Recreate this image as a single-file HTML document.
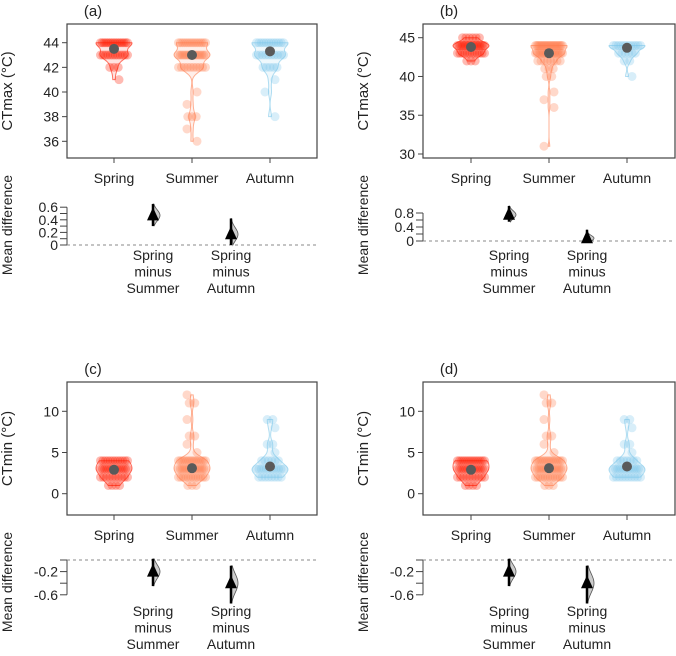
<!DOCTYPE html>
<html><head><meta charset="utf-8"><style>
body{margin:0;background:#fff}
svg text{font-family:"Liberation Sans",Arial,sans-serif;fill:#222}
</style></head><body>
<svg id="chart" width="676" height="651" xmlns="http://www.w3.org/2000/svg"></svg>
<script>
const categories=["Spring","Summer","Autumn"];
const contrastLabels=["Spring minus Summer","Spring minus Autumn"];
// panel a (CTmax)
const aVals=[[44,43,42,41],[44,43,42,40,39,38,37,36],[44,43,42,41,40,38]];
const aCounts=[[16,12,3,1],[14,16,10,1,1,3,1,1],[12,10,5,1,1,1]];
const aMeans=[43.5,43.0,43.3];
const aDiff=[0.47,0.17];const aLo=[0.3,0.0];const aHi=[0.65,0.42];
// panel b (CTmax)
const bVals=[[45,44,43,42],[44,43,42,41,40,38,37,36,31],[44,43,42,40]];
const bCounts=[[6,18,12,3],[22,18,8,3,2,1,1,1,1],[12,6,2,1]];
const bMeans=[43.8,43.0,43.7];
const bDiff=[0.75,0.08];const bLo=[0.55,0.0];const bHi=[1.0,0.32];
// panel c (CTmin)
const cVals=[[4,3,2,1],[12,11,9,7,6,5,4,3,2,1],[9,8,6,5,4,3,2]];
const cCounts=[[12,14,10,4],[1,2,1,2,1,1,14,16,12,3],[2,1,2,1,6,12,8]];
const cMeans=[2.9,3.1,3.3];
const cDiff=[-0.2,-0.4];const cLo=[-0.45,-0.75];const cHi=[0.02,-0.1];
// panel d (CTmin)
const dVals=[[4,3,2,1],[12,11,9,7,6,5,4,3,2,1],[9,8,6,5,4,3,2]];
const dCounts=[[14,14,10,4],[1,2,1,2,1,1,14,16,12,3],[2,1,2,1,7,14,10]];
const dMeans=[2.9,3.1,3.3];
const dDiff=[-0.2,-0.4];const dLo=[-0.45,-0.75];const dHi=[0.02,-0.1];

const colors=["#ff1a00","#ff7f50","#7ec8ea"];
const NS="http://www.w3.org/2000/svg";
const svg=document.getElementById("chart");
function mk(tag,attrs,parent){const e=document.createElementNS(NS,tag);for(const k in attrs)e.setAttribute(k,attrs[k]);(parent||svg).appendChild(e);return e;}
function txt(s,x,y,size,anchor,parent,rot){const t=mk("text",{x:x,y:y,"font-size":size,"text-anchor":anchor||"middle"},parent);if(rot)t.setAttribute("transform","rotate(-90 "+x+" "+y+")");t.textContent=s;return t;}

function panel(cfg,vals,counts,means,diff,lo,hi){
  const g=mk("g",{});
  
  
  const yS=v=>cfg.yA+(v-cfg.vA)*(cfg.yB-cfg.yA)/(cfg.vB-cfg.vA);
  const dS=v=>cfg.zeroY-v*cfg.dScale;
  const lab=txt("("+cfg.id+")",cfg.x0+26,cfg.y0-8,15,"middle",g);
  
  
  const box=mk("rect",{x:cfg.x0,y:cfg.y0,width:cfg.x1-cfg.x0,height:cfg.y1-cfg.y0,fill:"none",stroke:"#444","stroke-width":1.2},g);
  
  
  cfg.ticks.forEach(t=>{const y=yS(t);mk("line",{x1:cfg.x0-5,x2:cfg.x0,y1:y,y2:y,stroke:"#444"},g);
    const tl=txt(String(t),cfg.x0-8,y+5,14,"end",g);
    
    });
  const yt=txt(cfg.ytitle,cfg.titleX,(cfg.y0+cfg.y1)/2,15,"middle",g,true);
  
  
  categories.forEach((c,i)=>{
    const cx=cfg.cats[i];
    mk("line",{x1:cx,x2:cx,y1:cfg.y1,y2:cfg.y1+5,stroke:"#444"},g);
    const cl=txt(c,cx,cfg.y1+25,14,"middle",g);
    
    
    const v=vals[i],n=counts[i];let tot=n.reduce((a,b)=>a+b,0);
    const bw=cfg.bw;const mn=Math.min(...v),mx=Math.max(...v);
    const pts=[];let maxd=0;
    for(let k=0;k<=60;k++){const x=mn+(mx-mn)*k/60;let d=0;v.forEach((vv,j)=>{d+=n[j]*Math.exp(-0.5*((x-vv)/bw)**2);});d/=tot;pts.push([x,d]);maxd=Math.max(maxd,d);}
    let p="";pts.forEach((q,k)=>{p+=(k?"L":"M")+(cx+q[1]/maxd*cfg.vw)+","+yS(q[0]);});
    for(let k=pts.length-1;k>=0;k--){p+="L"+(cx-pts[k][1]/maxd*cfg.vw)+","+yS(pts[k][0]);}
    const vio=mk("path",{d:p+"Z",fill:colors[i],"fill-opacity":0.12,stroke:colors[i],"stroke-opacity":0.6,"stroke-width":1},g);
    
    
    v.forEach((vv,j)=>{const cnt=n[j];const w=Math.min(cfg.vw*0.75,cnt*1.4);
      for(let m=0;m<cnt;m++){const off=cnt>1?-w+2*w*m/(cnt-1):((j%2)?5:-5);
        const pt=mk("circle",{cx:cx+off,cy:yS(vv),r:4.5,fill:colors[i],"fill-opacity":0.3},g);
        
        }});
    const md=mk("circle",{cx:cx,cy:yS(means[i]),r:5,fill:"#5a5a5a"},g);
    
    
  });
  const ax=cfg.x0;
  const dmin=Math.min(...cfg.dTicks),dmax=Math.max(...cfg.dTicks);
  mk("line",{x1:ax,x2:ax,y1:dS(dmin),y2:dS(dmax),stroke:"#444"},g);
  cfg.dTicks.forEach(t=>{const y=dS(t);mk("line",{x1:ax-7,x2:ax,y1:y,y2:y,stroke:"#444"},g);});
  cfg.dLabels.forEach(t=>{const tl=txt(String(t),ax-9,dS(t)+5,14,"end",g);
    
    });
  const zl=mk("line",{x1:ax,x2:cfg.x1,y1:dS(0),y2:dS(0),stroke:"#888","stroke-dasharray":"3,3"},g);
  
  
  const mt=txt("Mean difference",cfg.titleX,cfg.dTitleY,14,"middle",g,true);
  
  
  diff.forEach((d,i)=>{
    const x=cfg.diffX[i];
    const sd=(hi[i]-lo[i])/4;let p="M"+x+","+dS(hi[i]);
    for(let k=0;k<=30;k++){const vv=hi[i]-(hi[i]-lo[i])*k/30;const w=7*Math.exp(-0.5*((vv-d)/sd)**2);p+="L"+(x+w)+","+dS(vv);}
    p+="Z";
    const hv=mk("path",{d:p,fill:"#ccc",stroke:"#555","stroke-width":0.8},g);
    
    
    const ci=mk("line",{x1:x,x2:x,y1:dS(lo[i]),y2:dS(hi[i]),stroke:"#000","stroke-width":2.5},g);
    
    
    const y=dS(d);
    const tr=mk("path",{d:"M"+x+","+(y-8)+"L"+(x+6)+","+(y+5)+"L"+(x-6)+","+(y+5)+"Z",fill:"#000"},g);
    
    
    const parts=["Spring","minus",i==0?"Summer":"Autumn"];
    parts.forEach((s,k)=>{const cl=txt(s,x,cfg.cLabY+k*16.5,14,"middle",g);
      
      });
  });
}
panel({id:"a",x0:67,x1:317,y0:24,y1:158,yA:42.7,vA:44,yB:141.3,vB:36,ticks:[36,38,40,42,44],bw:0.4,vw:18,cats:[114,192,270],titleX:12,ytitle:"CTmax (°C)",
  zeroY:245,dScale:63,dTicks:[0,0.1,0.2,0.3,0.4,0.5,0.6],dLabels:[0,0.2,0.4,0.6],diffX:[153,231],cLabY:260,dTitleY:225},aVals,aCounts,aMeans,aDiff,aLo,aHi);
panel({id:"b",x0:423,x1:675,y0:24,y1:158,yA:37.7,vA:45,yB:154,vB:30,ticks:[30,35,40,45],bw:0.45,vw:18,cats:[471,549,627],titleX:368,ytitle:"CTmax (°C)",
  zeroY:241,dScale:35,dTicks:[0,0.2,0.4,0.6,0.8],dLabels:[0,0.4,0.8],diffX:[509,587],cLabY:260,dTitleY:225},bVals,bCounts,bMeans,bDiff,bLo,bHi);
panel({id:"c",x0:67,x1:317,y0:382,y1:515,yA:411.3,vA:10,yB:493.7,vB:0,ticks:[0,5,10],bw:0.55,vw:18,cats:[114,192,270],titleX:12,ytitle:"CTmin (°C)",
  zeroY:560,dScale:58,dTicks:[0,-0.2,-0.4,-0.6],dLabels:[-0.2,-0.6],diffX:[153,231],cLabY:616,dTitleY:582},cVals,cCounts,cMeans,cDiff,cLo,cHi);
panel({id:"d",x0:423,x1:675,y0:382,y1:515,yA:411.3,vA:10,yB:493.7,vB:0,ticks:[0,5,10],bw:0.55,vw:18,cats:[471,549,627],titleX:368,ytitle:"CTmin (°C)",
  zeroY:560,dScale:58,dTicks:[0,-0.2,-0.4,-0.6],dLabels:[-0.2,-0.6],diffX:[509,587],cLabY:616,dTitleY:582},dVals,dCounts,dMeans,dDiff,dLo,dHi);
</script>
</body></html>
